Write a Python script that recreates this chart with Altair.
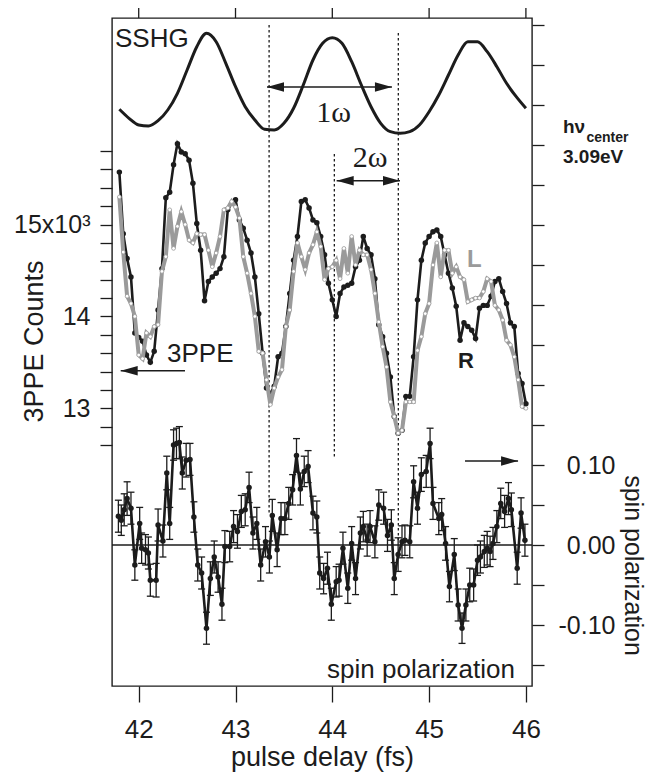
import altair as alt
import pandas as pd

FONT = "Liberation Sans"
INK = "#1c1c1c"
GRAY = "#9a9a9a"

# ---------------- data ----------------
sshg_t = [41.8, 41.9, 42.0, 42.1, 42.2, 42.3, 42.4, 42.5, 42.6, 42.7, 42.8, 42.9,
          43.0, 43.1, 43.2, 43.3, 43.4, 43.5, 43.6, 43.7, 43.8, 43.9, 44.0, 44.1,
          44.2, 44.3, 44.4, 44.5, 44.6, 44.7, 44.8, 44.9, 45.0, 45.1, 45.2, 45.3,
          45.4, 45.5, 45.6, 45.7, 45.8, 45.9, 46.0]
sshg_v = [0.307, 0.217, 0.150, 0.140, 0.193, 0.300, 0.467, 0.700, 0.933, 1.067, 0.983, 0.767,
          0.533, 0.333, 0.200, 0.107, 0.100, 0.167, 0.317, 0.550, 0.800, 0.967, 1.023, 0.967,
          0.783, 0.550, 0.333, 0.167, 0.083, 0.067, 0.083, 0.150, 0.283, 0.450, 0.650, 0.850,
          0.983, 0.983, 0.883, 0.733, 0.567, 0.433, 0.317]

delay = [41.80, 41.84, 41.88, 41.92, 41.96, 42.00, 42.04, 42.08, 42.12, 42.16,
         42.20, 42.24, 42.28, 42.32, 42.36, 42.40, 42.44, 42.48, 42.52, 42.56,
         42.60, 42.64, 42.68, 42.72, 42.76, 42.80, 42.84, 42.88, 42.92, 42.96,
         43.00, 43.04, 43.08, 43.12, 43.16, 43.20, 43.24, 43.28, 43.32, 43.36,
         43.40, 43.44, 43.48, 43.52, 43.56, 43.60, 43.64, 43.68, 43.72, 43.76,
         43.80, 43.84, 43.88, 43.92, 43.96, 44.00, 44.04, 44.08, 44.12, 44.16,
         44.20, 44.24, 44.28, 44.32, 44.36, 44.40, 44.44, 44.48, 44.52, 44.56,
         44.60, 44.64, 44.68, 44.72, 44.76, 44.80, 44.84, 44.88, 44.92, 44.96,
         45.00, 45.04, 45.08, 45.12, 45.16, 45.20, 45.24, 45.28, 45.32, 45.36,
         45.40, 45.44, 45.48, 45.52, 45.56, 45.60, 45.64, 45.68, 45.72, 45.76,
         45.80, 45.84, 45.88, 45.92, 45.96, 46.00]

counts_R = [15570, 14900, 14630, 14430, 13820, 13770, 13730, 13580, 13500, 13620,
            14070, 14520, 15290, 15350, 15650, 15880, 15790, 15770, 15700, 15450,
            15010, 14720, 14170, 14380, 14430, 14470, 14520, 14650, 15160, 15230,
            15270, 15050, 14960, 14830, 14690, 14430, 14030, 13600, 13220, 13160,
            13240, 13560, 13600, 13890, 14250, 14610, 14870, 15250, 15270, 15180,
            15050, 15020, 14870, 14670, 14360, 14180, 14000, 14250, 14320, 14340,
            14360, 14540, 14610, 14870, 14740, 14670, 14410, 13910, 13780, 13600,
            13340, 12910, 12730, 12760, 13130, 13130, 13560, 14180, 14610, 14800,
            14870, 14920, 14940, 14870, 14670, 14470, 14310, 14110, 13740, 13930,
            13890, 13850, 13760, 14090, 14120, 14120, 14220, 14380, 14410, 14270,
            14140, 13930, 13890, 13380, 13270, 13050]

counts_L = [15300, 14700, 14220, 14140, 14000, 13580, 13540, 13820, 13780, 13890,
            13910, 14490, 14650, 15160, 14740, 14980, 15140, 15000, 14830, 14800,
            14900, 14890, 14890, 14720, 14540, 14690, 14870, 15160, 15180, 15250,
            15190, 15070, 14650, 14470, 14250, 14000, 13620, 13600, 13310, 13040,
            13220, 13340, 13420, 13890, 14070, 14490, 14800, 14650, 14510, 14690,
            14780, 14920, 14760, 14400, 14520, 14540, 14610, 14410, 14740, 14470,
            14870, 14560, 14720, 14670, 14670, 14510, 14250, 13940, 13670, 13450,
            13070, 12910, 12730, 12760, 13070, 13070, 13070, 13630, 13780, 14030,
            14140, 14560, 14800, 14430, 14720, 14720, 14470, 14540, 14430, 14400,
            14160, 14180, 14200, 14200, 14270, 14410, 14380, 14120, 14070, 13960,
            13740, 13690, 13560, 13310, 13020, 13000]

spin_t = [41.79, 41.82, 41.85, 41.88, 41.92, 41.96, 42.01, 42.03, 42.07, 42.10,
          42.12, 42.18, 42.20, 42.25, 42.29, 42.32, 42.36, 42.39, 42.42, 42.45,
          42.49, 42.53, 42.57, 42.61, 42.65, 42.70, 42.74, 42.78, 42.82, 42.86,
          42.89, 42.94, 42.98, 43.02, 43.06, 43.10, 43.14, 43.18, 43.22, 43.26,
          43.31, 43.35, 43.38, 43.43, 43.47, 43.51, 43.55, 43.59, 43.63, 43.67,
          43.71, 43.75, 43.80, 43.84, 43.87, 43.91, 43.95, 43.99, 44.04, 44.07,
          44.11, 44.16, 44.20, 44.24, 44.29, 44.32, 44.36, 44.39, 44.44, 44.48,
          44.53, 44.57, 44.61, 44.64, 44.68, 44.72, 44.75, 44.80, 44.84, 44.88,
          44.92, 44.97, 45.01, 45.04, 45.10, 45.13, 45.17, 45.21, 45.26, 45.30,
          45.34, 45.38, 45.42, 45.46, 45.50, 45.53, 45.57, 45.60, 45.63, 45.66,
          45.70, 45.74, 45.78, 45.82, 45.85, 45.91, 45.95, 45.99]

spin_val = [0.036, 0.031, 0.044, 0.058, 0.046, -0.025, 0.027, -0.004, -0.006, -0.010,
            -0.044, -0.044, 0.025, 0.005, 0.090, 0.027, 0.125, 0.127, 0.128, 0.090,
            0.106, 0.107, 0.035, -0.025, -0.035, -0.104, -0.042, -0.015, -0.040, -0.074,
            -0.002, -0.002, 0.023, 0.017, 0.042, 0.044, 0.072, 0.015, 0.027, -0.025,
            0.004, -0.015, 0.037, -0.006, 0.033, 0.033, 0.052, 0.069, 0.112, 0.070,
            0.092, 0.098, 0.040, 0.035, -0.035, -0.042, -0.029, -0.074, -0.046, -0.044,
            -0.004, -0.054, 0.002, -0.042, 0.015, 0.023, 0.006, 0.023, 0.004, 0.050,
            0.046, 0.012, 0.025, -0.042, -0.012, 0.004, 0.006, 0.004, 0.079, 0.046,
            0.088, 0.092, 0.127, 0.052, 0.033, 0.038, 0.002, -0.052, -0.012, -0.075,
            -0.104, -0.075, -0.050, -0.050, -0.019, -0.015, -0.008, -0.004, -0.008, 0.002,
            0.023, 0.052, 0.042, 0.058, 0.044, -0.029, 0.040, 0.006]

spin_err = [0.020, 0.019, 0.020, 0.021, 0.020, 0.019, 0.020, 0.019, 0.019, 0.020,
            0.020, 0.021, 0.020, 0.020, 0.021, 0.020, 0.019, 0.019, 0.020, 0.020,
            0.021, 0.020, 0.019, 0.020, 0.020, 0.020, 0.021, 0.020, 0.019, 0.020,
            0.020, 0.019, 0.020, 0.021, 0.020, 0.020, 0.019, 0.020, 0.020, 0.020,
            0.019, 0.020, 0.020, 0.021, 0.020, 0.020, 0.020, 0.019, 0.021, 0.020,
            0.019, 0.020, 0.021, 0.020, 0.020, 0.019, 0.020, 0.020, 0.019, 0.020,
            0.020, 0.019, 0.021, 0.020, 0.020, 0.019, 0.020, 0.020, 0.020, 0.019,
            0.020, 0.020, 0.019, 0.020, 0.021, 0.020, 0.019, 0.020, 0.020, 0.020,
            0.021, 0.020, 0.019, 0.020, 0.020, 0.020, 0.021, 0.019, 0.020, 0.020,
            0.019, 0.020, 0.021, 0.020, 0.019, 0.020, 0.020, 0.021, 0.019, 0.020,
            0.020, 0.019, 0.020, 0.020, 0.021, 0.020, 0.019, 0.020]

x_ticks = [42, 43, 44, 45, 46]
count_ticks = [12600, 12800, 13000, 13200, 13400, 13600, 13800, 14000, 14200, 14400,
               14600, 14800, 15000, 15200, 15400, 15600, 15800]
spin_ticks = [-0.15, -0.10, -0.05, 0.0, 0.05, 0.10, 0.15, 0.20, 0.25, 0.30, 0.35,
              0.40, 0.45, 0.50, 0.55, 0.60, 0.65]

# reference marks (vertical dotted lines) and arrows, in delay units
marker_t = [43.347, 44.021, 44.682]
marker_top = [7, 136, 15]
marker_bot = [495, 439, 522]
arrow_x1 = [43.325, 44.045, 41.814, 45.371]
arrow_x2 = [44.616, 44.699, 42.478, 45.919]
arrow_y = [69, 162.7, 352.7, 443]
head_left_t = [43.325, 44.045, 41.814]
head_left_y = [69, 162.7, 352.7]
head_right_t = [44.616, 44.699, 45.919]
head_right_y = [69, 162.7, 443]

assert len(sshg_t) == len(sshg_v)
assert len(delay) == len(counts_R) == len(counts_L)
assert len(spin_t) == len(spin_val) == len(spin_err)

# ---------------- scales ----------------
X_DOMAIN = [41.724, 46.063]


def xs():
    return alt.Scale(domain=X_DOMAIN, nice=False, zero=False)


def xnone():
    return alt.X("t:Q", scale=xs(), axis=None)


SSHG_DOM = [-5.46, 1.22]
PPE_DOM = [9978.5, 17247]
SPIN_DOM = [-0.17625, 0.65875]


def ysc(dom):
    return alt.Scale(domain=dom, nice=False, zero=False)


# ---------------- SSHG ----------------
sshg = alt.Chart(pd.DataFrame({"t": sshg_t, "v": sshg_v})).mark_line(
    color=INK, strokeWidth=3, interpolate="monotone"
).encode(x=xnone(), y=alt.Y("v:Q", scale=ysc(SSHG_DOM), axis=None))

# ---------------- 3PPE ----------------
ppe_df = pd.DataFrame({"t": delay, "R": counts_R, "L": counts_L})

x_axis = alt.Axis(
    orient="bottom", values=x_ticks, format="d", grid=False, domain=False,
    tickSize=16, tickColor=INK, tickWidth=1.3,
    labelFont=FONT, labelFontSize=26, labelColor=INK, labelPadding=14,
    labelFlush=False, labelOverlap=False,
    title="pulse delay (fs)", titleFont=FONT, titleFontSize=27, titleFontWeight="normal",
    titleColor=INK, titleBaseline="alphabetic", titleY=79,
)
left_axis = alt.Axis(
    orient="left", values=count_ticks, grid=False, domain=False,
    labelExpr="datum.value == 15000 ? '15x10³' : datum.value == 14000 ? '14' : datum.value == 13000 ? '13' : ''",
    tickSize=12, tickColor=INK, tickWidth=1.3,
    labelFont=FONT, labelFontSize=25, labelColor=INK, labelPadding=10,
    labelOverlap=False, labelFlush=False, labelBound=False,
    title="3PPE Counts", titleFont=FONT, titleFontSize=27, titleFontWeight="normal",
    titleColor=INK, titleAngle=-90, titleBaseline="alphabetic", titleAlign="center",
    titleX=-70, titleY=323,
)

r_line = alt.Chart(ppe_df).mark_line(color=INK, strokeWidth=2.6).encode(
    x=alt.X("t:Q", scale=xs(), axis=x_axis),
    y=alt.Y("R:Q", scale=ysc(PPE_DOM), axis=left_axis),
)
r_pts = alt.Chart(ppe_df).mark_circle(color=INK, size=30, opacity=1).encode(
    x=xnone(), y=alt.Y("R:Q", scale=ysc(PPE_DOM), axis=None)
)
l_line = alt.Chart(ppe_df).mark_line(color=GRAY, strokeWidth=4).encode(
    x=xnone(), y=alt.Y("L:Q", scale=ysc(PPE_DOM), axis=None)
)
l_pts = alt.Chart(ppe_df).mark_point(
    shape="circle", filled=True, fill="white", stroke=GRAY, strokeWidth=0.8, size=14, opacity=1
).encode(x=xnone(), y=alt.Y("L:Q", scale=ysc(PPE_DOM), axis=None))

# ---------------- spin polarization ----------------
spin_df = pd.DataFrame({"t": spin_t, "sp": spin_val, "err": spin_err})
right_axis = alt.Axis(
    orient="right", values=spin_ticks, grid=False, domain=False,
    labelExpr="abs(datum.value - 0.1) < 0.001 ? '0.10' : abs(datum.value) < 0.001 ? '0.00' : abs(datum.value + 0.1) < 0.001 ? '-0.10' : ''",
    tickSize=12, tickColor=INK, tickWidth=1.3,
    labelFont=FONT, labelFontSize=25, labelColor=INK, labelAlign="right", labelPadding=71,
    labelOverlap=False, labelFlush=False, labelBound=False,
    title="spin polarization", titleFont=FONT, titleFontSize=25, titleFontWeight="normal",
    titleColor=INK, titleAngle=90, titleBaseline="alphabetic", titleAlign="center",
    titleX=92, titleY=547,
)
spin_base = alt.Chart(spin_df).transform_calculate(
    lo="datum.sp - datum.err", hi="datum.sp + datum.err"
)
sp_line = alt.Chart(spin_df).mark_line(color=INK, strokeWidth=2.6).encode(
    x=xnone(), y=alt.Y("sp:Q", scale=ysc(SPIN_DOM), axis=right_axis)
)
zero_line = alt.Chart(pd.DataFrame({"z": [0.0]})).mark_rule(color=INK, strokeWidth=1.3).encode(
    y=alt.Y("z:Q", scale=ysc(SPIN_DOM), axis=None)
)
bars = spin_base.mark_rule(color=INK, strokeWidth=1.3).encode(
    x=xnone(), y=alt.Y("lo:Q", scale=ysc(SPIN_DOM), axis=None), y2="hi:Q"
)
cap_hi = spin_base.mark_tick(orient="horizontal", size=7, thickness=1.3, color=INK, opacity=1).encode(
    x=xnone(), y=alt.Y("hi:Q", scale=ysc(SPIN_DOM), axis=None)
)
cap_lo = spin_base.mark_tick(orient="horizontal", size=7, thickness=1.3, color=INK, opacity=1).encode(
    x=xnone(), y=alt.Y("lo:Q", scale=ysc(SPIN_DOM), axis=None)
)
sp_pts = alt.Chart(spin_df).mark_circle(color=INK, size=30, opacity=1).encode(
    x=xnone(), y=alt.Y("sp:Q", scale=ysc(SPIN_DOM), axis=None)
)

# ---------------- annotations ----------------
top_ticks = alt.Chart(pd.DataFrame({"t": x_ticks})).mark_rule(color=INK, strokeWidth=1.3).encode(
    x=xnone(), y=alt.value(-12), y2=alt.value(0)
)
dots = alt.Chart(pd.DataFrame({"t": marker_t, "y1": marker_top, "y2": marker_bot})).mark_rule(
    color=INK, strokeWidth=1.3, strokeDash=[2.5, 2.5]
).encode(x=xnone(), y=alt.Y("y1:Q", scale=None, axis=None), y2="y2:Q")

shafts = alt.Chart(pd.DataFrame({"t": arrow_x1, "t2": arrow_x2, "y": arrow_y})).mark_rule(
    color=INK, strokeWidth=1.6
).encode(x=xnone(), x2="t2:Q", y=alt.Y("y:Q", scale=None, axis=None))

HEAD_R = "M0,0L-2,-0.55L-2,0.55Z"
HEAD_L = "M0,0L2,-0.55L2,0.55Z"
heads_l = alt.Chart(pd.DataFrame({"t": head_left_t, "y": head_left_y})).mark_point(
    shape=HEAD_L, filled=True, size=289, color=INK, opacity=1, strokeWidth=0
).encode(x=xnone(), y=alt.Y("y:Q", scale=None, axis=None))
heads_r = alt.Chart(pd.DataFrame({"t": head_right_t, "y": head_right_y})).mark_point(
    shape=HEAD_R, filled=True, size=289, color=INK, opacity=1, strokeWidth=0
).encode(x=xnone(), y=alt.Y("y:Q", scale=None, axis=None))


def label(text, x, y, size, weight="normal", color=INK, align="left", font=FONT):
    return alt.Chart(pd.DataFrame({"k": [0]})).mark_text(
        text=text, font=font, fontSize=size, fontWeight=weight, color=color,
        align=align, baseline="alphabetic"
    ).encode(x=alt.value(x), y=alt.value(y))


texts = [
    label("SSHG", 3, 29, 26),
    label("1ω", 221.5, 104, 30, font="Liberation Serif", align="center"),
    label("2ω", 258, 149, 30, font="Liberation Serif", align="center"),
    label("3PPE", 55, 343.7, 26),
    label("L", 355, 249, 24, weight="bold", color=GRAY),
    label("R", 346, 350, 22, weight="bold"),
    label("spin polarization", 403, 660, 26, align="right"),
    label("hν", 451, 115.3, 19, weight="bold"),
    label("center", 474.5, 123.5, 14, weight="bold"),
    label("3.09eV", 451, 145.3, 19, weight="bold"),
]

chart = alt.layer(
    r_line, sp_line, sshg, dots, r_pts, l_line, l_pts,
    zero_line, bars, cap_hi, cap_lo, sp_pts,
    top_ticks, shafts, heads_l, heads_r, *texts
).resolve_scale(y="independent").resolve_axis(x="independent").properties(
    width=420, height=668,
    padding={"left": 104, "top": 10, "right": 115, "bottom": 86},
    autosize=alt.AutoSizeParams(type="none"),
).configure(font=FONT, background="white").configure_view(stroke=INK, strokeWidth=1.4)

chart.save("out.html", embed_options={"renderer": "svg", "actions": False})
